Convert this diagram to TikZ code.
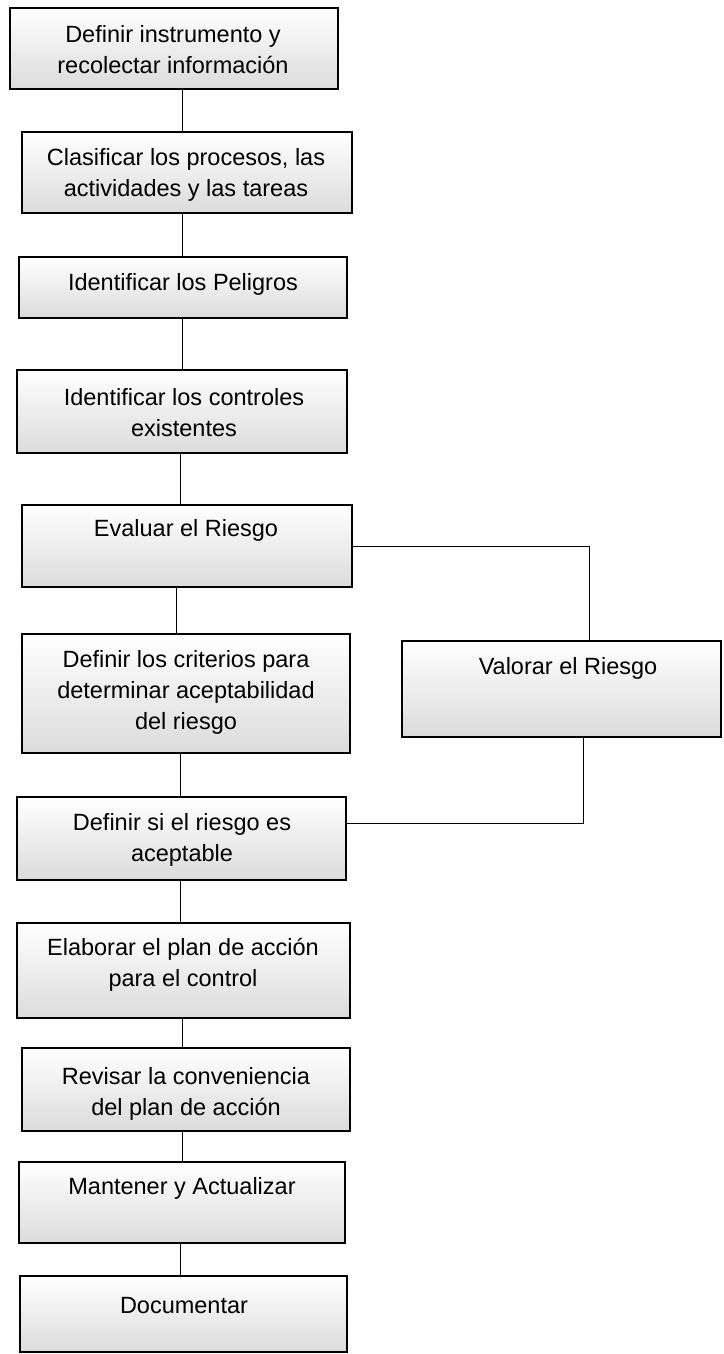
\documentclass[tikz,border=0pt]{standalone}
\usepackage{fontspec}
\setmainfont{Liberation Sans}
\usetikzlibrary{fit,calc}
\begin{document}
\begin{tikzpicture}[x=1pt,y=-1pt,
  flowbox/.style={draw=black, line width=1.2pt, top color=white, bottom color=black!14, inner sep=0pt},
  boxtext/.style={anchor=north, inner sep=0pt, align=center, font=\fontsize{23.5}{31}\selectfont},
  link/.style={draw=black, line width=0.9pt}]
\useasboundingbox (0,0) rectangle (723,1354);
% boxes
\node[flowbox, fit={(10,8) (338,89)}] (b1) {};
\node[flowbox, fit={(22,132) (352,213)}] (b2) {};
\node[flowbox, fit={(19,257) (347,318)}] (b3) {};
\node[flowbox, fit={(17,370) (347,453)}] (b4) {};
\node[flowbox, fit={(22,505) (352,587)}] (b5) {};
\node[flowbox, fit={(22,634) (350,753)}] (b6) {};
\node[flowbox, fit={(17,797) (346,880)}] (b7) {};
\node[flowbox, fit={(17,923) (350,1018)}] (b8) {};
\node[flowbox, fit={(22,1048) (350,1131)}] (b9) {};
\node[flowbox, fit={(19,1162) (345,1243)}] (b10) {};
\node[flowbox, fit={(20,1276) (347,1352)}] (b11) {};
\node[flowbox, fit={(402,641) (721,737)}] (b12) {};
% texts
\node[boxtext] (t1) at (173,25) {Definir instrumento y\\recolectar información};
\node[boxtext] (t2) at (186,148) {Clasificar los procesos, las\\actividades y las tareas};
\node[boxtext] (t3) at (183,273) {Identificar los Peligros};
\node[boxtext] (t4) at (184,388) {Identificar los controles\\existentes};
\node[boxtext] (t5) at (186,519) {Evaluar el Riesgo};
\node[boxtext] (t6) at (186,650) {Definir los criterios para\\determinar aceptabilidad\\del riesgo};
\node[boxtext] (t7) at (182,813) {Definir si el riesgo es\\aceptable};
\node[boxtext] (t8) at (183,938) {Elaborar el plan de acción\\para el control};
\node[boxtext] (t9) at (186,1067) {Revisar la conveniencia\\del plan de acción};
\node[boxtext] (t10) at (182,1177) {Mantener y Actualizar};
\node[boxtext] (t11) at (184,1297) {Documentar};
\node[boxtext] (t12) at (568,657) {Valorar el Riesgo};
% connector columns
\coordinate (xa) at (182,0);
\coordinate (xb) at (180,0);
\coordinate (xc) at (176,0);
\coordinate (xv) at (589,0);
\coordinate (xw) at (583,0);
\coordinate (yw) at (0,823);
% connectors
\draw[link] (b1.south -| xa) -- (b2.north -| xa);
\draw[link] (b2.south -| xa) -- (b3.north -| xa);
\draw[link] (b3.south -| xa) -- (b4.north -| xa);
\draw[link] (b4.south -| xb) -- (b5.north -| xb);
\draw[link] (b5.south -| xc) -- (b6.north -| xc);
\draw[link] (b6.south -| xb) -- (b7.north -| xb);
\draw[link] (b7.south -| xb) -- (b8.north -| xb);
\draw[link] (b8.south -| xa) -- (b9.north -| xa);
\draw[link] (b9.south -| xa) -- (b10.north -| xa);
\draw[link] (b10.south -| xb) -- (b11.north -| xb);
\draw[link] (b5.east) -| (b12.north -| xv);
\draw[link] (b12.south -| xw) |- (b7.east |- yw);
\end{tikzpicture}
\end{document}
